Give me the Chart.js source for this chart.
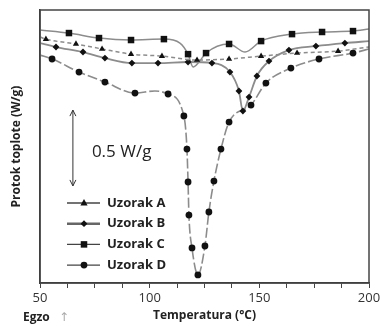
<!DOCTYPE html>
<html>
<head>
<meta charset="utf-8">
<script src="https://cdn.jsdelivr.net/npm/chart.js@4.4.0/dist/chart.umd.min.js"></script>
<style>
  body { margin: 0; background: #fff; }
</style>
</head>
<body>
<canvas id="Cnvs" width="380" height="326"></canvas>
<script>
// DSC curves, temperature in C, heat flow in W/g (offset, no absolute zero)
var aT = [50, 52.7, 66.4, 78.3, 91.5, 105.6, 121.6, 136.2, 150.8, 167.2, 185.9, 200];
var aV = [1.622, 1.608, 1.576, 1.543, 1.509, 1.496, 1.470, 1.477, 1.496, 1.516, 1.529, 1.556];
var aM = [0, 1, 1, 1, 1, 1, 1, 1, 1, 1, 1, 0];

var bT = [50, 57.3, 69.6, 79.6, 91.9, 103.8, 117.5, 128.4, 136.6, 140.7, 142.5, 145.3, 148.9, 154.4, 163.5, 175.8, 189, 200];
var bV = [1.582, 1.556, 1.523, 1.483, 1.450, 1.450, 1.457, 1.450, 1.391, 1.266, 1.134, 1.226, 1.365, 1.463, 1.536, 1.562, 1.582, 1.595];
var bM = [0, 1, 1, 1, 1, 1, 1, 1, 1, 1, 1, 1, 1, 1, 1, 1, 1, 0];

var cT = [50, 63.2, 76.9, 91.5, 106.5, 113.8, 117.5, 119.8, 122.5, 125.7, 136.2, 143.5, 150.8, 164.9, 178.6, 192.7, 200];
var cV = [1.668, 1.648, 1.615, 1.602, 1.608, 1.582, 1.509, 1.424, 1.457, 1.516, 1.576, 1.523, 1.595, 1.641, 1.655, 1.661, 1.674];
var cM = [0, 1, 1, 1, 1, 0, 1, 0, 0, 1, 1, 0, 1, 1, 1, 1, 0];

var dT = [50, 55.5, 67.8, 79.6, 93.3, 102.4, 108.4, 115.6, 117, 117.5, 117.9, 119.3, 122, 125.2, 127, 129.3, 132.5, 136.2, 146.2, 153, 164.4, 177.2, 192.7, 200];
var dV = [1.503, 1.477, 1.391, 1.325, 1.252, 1.266, 1.246, 1.101, 0.883, 0.666, 0.448, 0.231, 0.053, 0.244, 0.468, 0.672, 0.883, 1.061, 1.173, 1.318, 1.417, 1.477, 1.516, 1.543];
var dM = [0, 1, 1, 1, 1, 0, 1, 1, 1, 1, 1, 1, 1, 1, 1, 1, 1, 1, 1, 1, 1, 1, 1, 0];

var names = ['Uzorak A', 'Uzorak B', 'Uzorak C', 'Uzorak D'];
var xTitle = 'Temperatura (°C)';
var yTitle = 'Protok toplote (W/g)';
var scaleText = '0.5 W/g';
var scaleSpan = 0.5;

function pts(t, v) {
  var out = [];
  for (var i = 0; i < t.length; i++) out.push({x: t[i], y: v[i]});
  return out;
}
function rad(m, r) {
  return m.map(function(k) { return k ? r : 0; });
}

var styles = [
  {marker: 'triangle', r: 3.6, dash: [4, 3], w: 1.5},
  {marker: 'rectRot', r: 3.4, dash: [], w: 1.8},
  {marker: 'rect', r: 4.6, dash: [], w: 1.5},
  {marker: 'circle', r: 3.4, dash: [10, 3], w: 1.6}
];
var series = [[aT, aV, aM], [bT, bV, bM], [cT, cV, cM], [dT, dV, dM]];

var datasets = series.map(function(s, i) {
  var st = styles[i];
  return {
    label: names[i],
    data: pts(s[0], s[1]),
    borderColor: '#8c8c8c',
    borderWidth: st.w,
    borderDash: st.dash,
    pointStyle: st.marker,
    pointRadius: rad(s[2], st.r),
    pointBackgroundColor: '#111',
    pointBorderColor: '#111',
    pointBorderWidth: 0,
    cubicInterpolationMode: 'monotone',
    fill: false
  };
});

function marker(ctx, style, r, x, y) {
  ctx.beginPath();
  if (style == 'circle') {
    ctx.arc(x, y, r, 0, Math.PI * 2);
  } else if (style == 'rect') {
    var s = r * Math.SQRT1_2;
    ctx.rect(x - s, y - s, 2 * s, 2 * s);
  } else if (style == 'rectRot') {
    ctx.moveTo(x, y - r); ctx.lineTo(x + r, y); ctx.lineTo(x, y + r); ctx.lineTo(x - r, y);
  } else {
    ctx.moveTo(x, y - r * 1.1); ctx.lineTo(x + r, y + r * 0.7); ctx.lineTo(x - r, y + r * 0.7);
  }
  ctx.closePath();
  ctx.fill();
}

var extras = {
  id: 'extras',
  afterDraw: function(chart) {
    var ctx = chart.ctx, a = chart.chartArea;
    var xs = chart.scales.x, ys = chart.scales.y;
    ctx.save();
    // frame round the plot
    ctx.strokeStyle = '#444';
    ctx.lineWidth = 1.5;
    ctx.setLineDash([]);
    ctx.strokeRect(a.left, a.top, a.right - a.left, a.bottom - a.top);

    // 0.5 W/g scale arrow
    var ax = xs.getPixelForValue(65);
    var yb = ys.getPixelForValue(0.64), yt = ys.getPixelForValue(0.64 + scaleSpan);
    ctx.strokeStyle = '#333';
    ctx.lineWidth = 1;
    ctx.beginPath();
    ctx.moveTo(ax, yt); ctx.lineTo(ax, yb);
    ctx.moveTo(ax - 3, yt + 6); ctx.lineTo(ax, yt); ctx.lineTo(ax + 3, yt + 6);
    ctx.moveTo(ax - 3, yb - 6); ctx.lineTo(ax, yb); ctx.lineTo(ax + 3, yb - 6);
    ctx.stroke();
    ctx.fillStyle = '#222';
    ctx.font = "17px 'Open Sans', sans-serif";
    ctx.textBaseline = 'middle';
    ctx.fillText(scaleText, ax + 19, (yt + yb) / 2 + 4);

    // legend
    ctx.font = "bold 13px 'Open Sans', sans-serif";
    for (var i = 0; i < names.length; i++) {
      var ly = a.bottom - 80 + i * 20.7;
      var lx = a.left + 27;
      ctx.strokeStyle = i == 1 ? '#666' : '#444';
      ctx.lineWidth = i == 1 ? 2.5 : 1.3;
      ctx.beginPath();
      ctx.moveTo(lx, ly); ctx.lineTo(lx + 33, ly);
      ctx.stroke();
      ctx.fillStyle = '#111';
      marker(ctx, styles[i].marker, styles[i].r, lx + 17, ly);
      ctx.fillStyle = '#222';
      ctx.fillText(names[i], a.left + 67, ly);
    }

    // exo direction
    ctx.font = "bold 12px 'Open Sans', sans-serif";
    ctx.fillStyle = '#222';
    ctx.fillText('Egzo', 23, 318);
    ctx.font = "12px 'DejaVu Sans', sans-serif";
    ctx.fillStyle = '#aaa';
    ctx.fillText('\u2191', 59, 318);
    ctx.restore();
  }
};

Chart.defaults.font.family = "'Open Sans', sans-serif";

var chart = new Chart(document.getElementById('Cnvs').getContext('2d'), {
  type: 'line',
  data: {datasets: datasets},
  options: {
    responsive: false,
    animation: false,
    devicePixelRatio: 1,
    layout: {padding: {top: 10, right: 11, left: 0, bottom: 0}},
    plugins: {legend: {display: false}, tooltip: {enabled: false}},
    scales: {
      x: {
        type: 'linear', min: 50, max: 200,
        afterFit: function(scale) {
          scale.height = 43;
          scale.paddingLeft = 0;
          scale.paddingRight = 0;
        },
        ticks: {
          stepSize: 12.5, autoSkip: false, maxRotation: 0, padding: 2,
          color: '#333', font: {size: 13},
          callback: function(v) { return v % 50 === 0 ? v : ''; }
        },
        grid: {drawOnChartArea: false, drawTicks: true, tickLength: 5, color: '#444'},
        border: {color: '#333', width: 1.5},
        title: {display: true, text: xTitle, color: '#222', font: {size: 12, weight: 'bold'}, padding: {top: 0, bottom: 3}}
      },
      y: {
        min: 0, max: 1.8,
        afterFit: function(scale) { scale.width = 40; },
        ticks: {display: false},
        grid: {display: false},
        border: {color: '#333', width: 1.5},
        title: {display: true, text: yTitle, color: '#222', font: {size: 12, weight: 'bold'}, padding: {top: 9, bottom: 0}}
      }
    }
  },
  plugins: [extras]
});
</script>
</body>
</html>
